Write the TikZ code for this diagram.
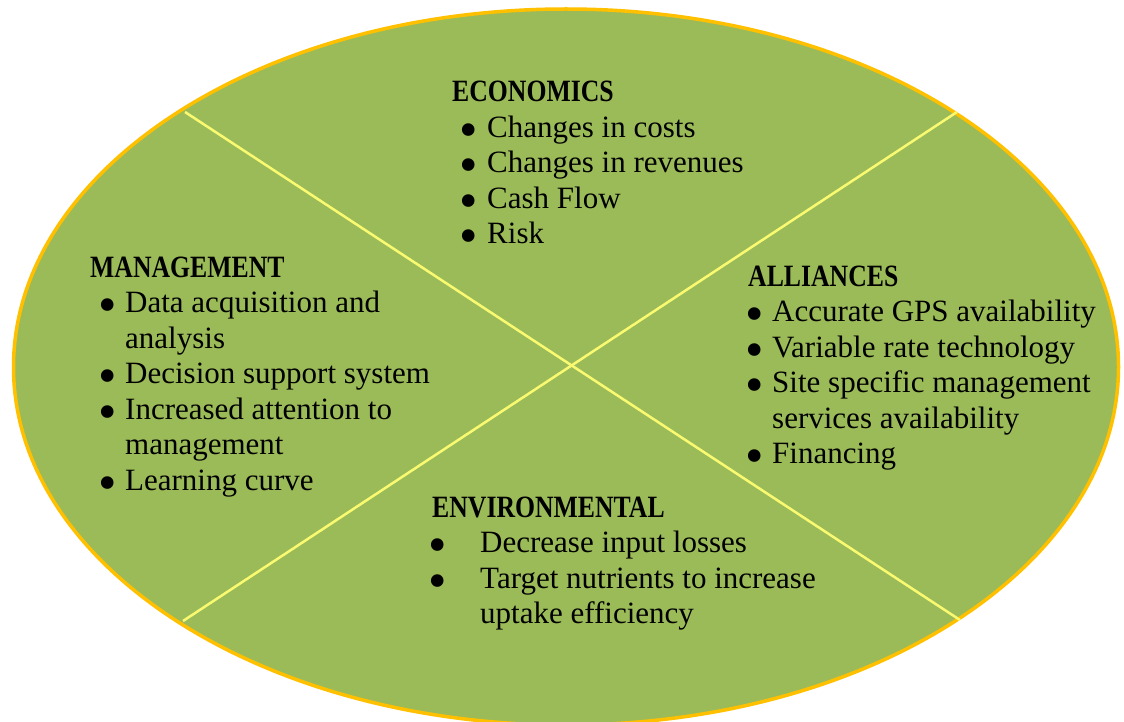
\documentclass[tikz,border=0pt]{standalone}
\usepackage{fontspec}
\setmainfont{Liberation Serif}
\usepackage{graphicx}
\usetikzlibrary{shapes.geometric}
\definecolor{fieldgreen}{HTML}{9BBB59}
\definecolor{rimgold}{HTML}{FFC000}
\definecolor{divline}{HTML}{FAFA70}
\tikzstyle{field} = [ellipse, draw=rimgold, fill=fieldgreen, line width=3.5pt, inner sep=0pt, minimum width=1105pt, minimum height=716pt]
\tikzstyle{divider} = [draw=divline, line width=2.5pt]
\tikzstyle{quadrant} = [anchor=base west, inner sep=0pt, font=\fontsize{31}{35.5}\selectfont]
\newcommand{\heading}[1]{\scalebox{0.83}[1]{\textbf{#1}}}
% bullet centred at #1, item text starting at #2
\newcommand{\bitem}[3]{\hspace*{#1}\makebox[0pt]{\smash{\raisebox{-10pt}{\scalebox{1.7}{\textbullet}}}}\hspace*{\dimexpr#2-#1\relax}#3}

\begin{document}
\begin{tikzpicture}[x=1pt, y=-1pt]
  \useasboundingbox (0,0) rectangle (1124,722);

  % field
  \node[field] (fld) at (566,367) {};

  % dividers
  \coordinate (tl) at (185,112);
  \coordinate (br) at (960,620);
  \coordinate (tr) at (957,112);
  \coordinate (bl) at (183,621);
  \draw[divider] (tl) -- (br);
  \draw[divider] (tr) -- (bl);

  % economics
  \node[quadrant] (econ) at (452,102) {\begin{tabular}[t]{@{}l@{}}
    \heading{ECONOMICS}\\
    \bitem{16.5pt}{35pt}{Changes in costs}\\
    \bitem{16.5pt}{35pt}{Changes in revenues}\\
    \bitem{16.5pt}{35pt}{Cash Flow}\\
    \bitem{16.5pt}{35pt}{Risk}
  \end{tabular}};

  % management
  \node[quadrant] (mgmt) at (90,277) {\begin{tabular}[t]{@{}l@{}}
    \heading{MANAGEMENT}\\
    \bitem{18pt}{35pt}{Data acquisition and}\\
    \hspace*{35pt}analysis\\
    \bitem{18pt}{35pt}{Decision support system}\\
    \bitem{18pt}{35pt}{Increased attention to}\\
    \hspace*{35pt}management\\
    \bitem{18pt}{35pt}{Learning curve}
  \end{tabular}};

  % alliances
  \node[quadrant] (alli) at (748,286) {\begin{tabular}[t]{@{}l@{}}
    \heading{ALLIANCES}\\
    \bitem{6.5pt}{24pt}{Accurate GPS availability}\\
    \bitem{6.5pt}{24pt}{Variable rate technology}\\
    \bitem{6.5pt}{24pt}{Site specific management}\\
    \hspace*{24pt}services availability\\
    \bitem{6.5pt}{24pt}{Financing}
  \end{tabular}};

  % environmental
  \node[quadrant] (envi) at (432,517) {\begin{tabular}[t]{@{}l@{}}
    \heading{ENVIRONMENTAL}\\
    \bitem{6pt}{48pt}{Decrease input losses}\\
    \bitem{6pt}{48pt}{Target nutrients to increase}\\
    \hspace*{48pt}uptake efficiency
  \end{tabular}};
\end{tikzpicture}
\end{document}
